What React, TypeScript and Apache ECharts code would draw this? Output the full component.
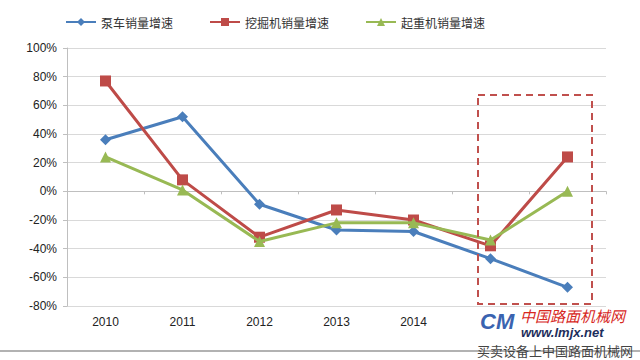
import React, { useEffect, useRef } from "react";
import * as echarts from "echarts";

const categories = ["2010", "2011", "2012", "2013", "2014", "2015", "2016"];
const shownLabels = ["2010", "2011", "2012", "2013", "2014"];
const pumpTruck = [36, 52, -9, -27, -28, -47, -67];
const excavator = [77, 8, -32, -13, -20, -38, 24];
const crane = [24, 1, -35, -22, -22, -34, 0];
const seriesNames = ["泵车销量增速", "挖掘机销量增速", "起重机销量增速"];
const yMin = -80;
const yMax = 100;
const yStep = 20;

export default function App() {
  const ref = useRef<HTMLDivElement>(null);
  useEffect(() => {
    if (!ref.current) return;
    const chart = echarts.init(ref.current, null, { renderer: "svg" });
    const colors = ["#4a7ebb", "#be4b48", "#98b954"];
    const symbols = ["diamond", "rect", "triangle"];
    const datas = [pumpTruck, excavator, crane];
    chart.setOption({
      animation: false,
      backgroundColor: "#ffffff",
      legend: {
        left: 60,
        top: 11,
        itemWidth: 30,
        itemHeight: 10,
        itemGap: 36,
        textStyle: { fontFamily: "Noto Sans CJK SC", fontSize: 12, color: "#333" },
        data: seriesNames,
      },
      grid: { left: 67, right: 34, top: 48, bottom: 54 },
      xAxis: [
        {
          type: "category",
          data: categories,
          boundaryGap: true,
          axisLine: { onZero: true, lineStyle: { color: "#bfbfbf", width: 1 } },
          axisTick: { show: true, length: 3, lineStyle: { color: "#bfbfbf" } },
          axisLabel: { show: false },
        },
        {
          type: "category",
          data: categories,
          position: "bottom",
          boundaryGap: true,
          axisLine: { show: false },
          axisTick: { show: false },
          axisLabel: {
            margin: 10,
            fontFamily: "Liberation Sans",
            fontSize: 12,
            color: "#222",
            formatter: (v: string) => (shownLabels.indexOf(v) >= 0 ? v : ""),
          },
        },
      ],
      yAxis: {
        type: "value",
        min: yMin,
        max: yMax,
        interval: yStep,
        axisLine: { show: true, lineStyle: { color: "#bfbfbf" } },
        axisTick: { show: true, length: 4, lineStyle: { color: "#bfbfbf" } },
        splitLine: { lineStyle: { color: "#d9d9d9" } },
        axisLabel: {
          margin: 10,
          fontFamily: "Liberation Sans",
          fontSize: 12,
          color: "#222",
          formatter: (v: number) => v + "%",
        },
      },
      series: seriesNames.map((name, i) => ({
        name,
        type: "line",
        data: datas[i],
        symbol: symbols[i],
        symbolSize: 11,
        showSymbol: true,
        lineStyle: { color: colors[i], width: 3 },
        itemStyle: { color: colors[i] },
        z: 3 + i,
      })),
      graphic: [
        {
          type: "rect",
          shape: { x: 478, y: 95, width: 114, height: 209 },
          style: { fill: "none", stroke: "#c0504d", lineWidth: 2, lineDash: [7, 5] },
          z: 10,
        },
        {
          type: "rect",
          shape: { x: 476, y: 309, width: 160, height: 36 },
          style: { fill: "#ffffff" },
          z: 20,
        },
        {
          type: "line",
          shape: { x1: 0, y1: 351, x2: 640, y2: 351 },
          style: { stroke: "#999", lineWidth: 1.5 },
          z: 19,
        },
        {
          type: "text",
          x: 480,
          y: 310,
          style: { text: "CM", fontFamily: "Liberation Sans", fontWeight: "bold", fontStyle: "italic", fontSize: 22, fill: "#3a63b0" },
          z: 21,
        },
        {
          type: "text",
          x: 520,
          y: 308,
          style: { text: "中国路面机械网", fontFamily: "Noto Sans CJK SC", fontStyle: "italic", fontSize: 15, fill: "#d7281e" },
          z: 21,
        },
        {
          type: "text",
          x: 521,
          y: 326,
          style: { text: "www.lmjx.net", fontFamily: "Liberation Sans", fontWeight: "bold", fontStyle: "italic", fontSize: 13, fill: "#1d2e5c" },
          z: 21,
        },
        {
          type: "text",
          x: 477,
          y: 344,
          style: { text: "买卖设备上中国路面机械网", fontFamily: "Noto Sans CJK SC", fontSize: 13, fill: "#444" },
          z: 21,
        },
      ],
    });
    return () => chart.dispose();
  }, []);
  return <div ref={ref} style={{ width: 640, height: 360, position: "absolute", left: 0, top: 0 }} />;
}
